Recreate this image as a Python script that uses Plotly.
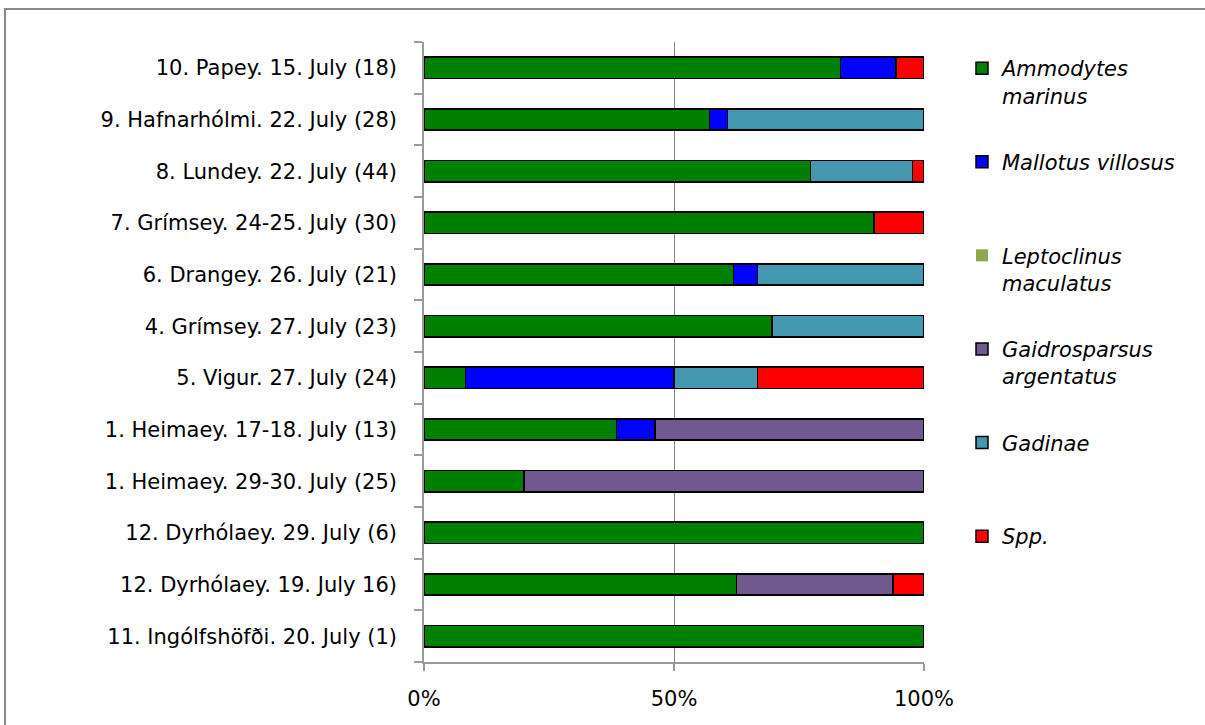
import plotly.graph_objects as go

# Colony / sampling date, with number of prey loads in brackets (bottom to top)
sites = [
    "11. Ingólfshöfði. 20. July (1)",
    "12. Dyrhólaey. 19. July 16)",
    "12. Dyrhólaey. 29. July (6)",
    "1. Heimaey. 29-30. July (25)",
    "1. Heimaey. 17-18. July (13)",
    "5. Vigur. 27. July (24)",
    "4. Grímsey. 27. July (23)",
    "6. Drangey. 26. July (21)",
    "7. Grímsey. 24-25. July (30)",
    "8. Lundey. 22. July (44)",
    "9. Hafnarhólmi. 22. July (28)",
    "10. Papey. 15. July (18)",
]

# Prey counts per taxon, same order as sites
ammodytes_marinus = [1, 10, 6, 5, 5, 2, 16, 13, 27, 34, 16, 15]
mallotus_villosus = [0, 0, 0, 0, 1, 10, 0, 1, 0, 0, 1, 2]
leptoclinus_maculatus = [0, 0, 0, 0, 0, 0, 0, 0, 0, 0, 0, 0]
gaidrosparsus_argentatus = [0, 5, 0, 20, 7, 0, 0, 0, 0, 0, 0, 0]
gadinae = [0, 0, 0, 0, 0, 4, 7, 7, 0, 9, 11, 0]
spp = [0, 1, 0, 0, 0, 8, 0, 0, 3, 1, 0, 1]

series = [
    ("<i>Ammodytes<br>marinus</i>", ammodytes_marinus, "#008000", True),
    ("<i>Mallotus villosus</i><br> ", mallotus_villosus, "#0000FF", True),
    ("<i>Leptoclinus<br>maculatus</i>", leptoclinus_maculatus, "#8DA84E", False),
    ("<i>Gaidrosparsus<br>argentatus</i>", gaidrosparsus_argentatus, "#70598E", True),
    ("<i>Gadinae</i><br> ", gadinae, "#4398B0", True),
    ("<i>Spp.</i><br> ", spp, "#FF0000", True),
]

FONT = "'DejaVu Sans', 'Open Sans', sans-serif"
FS = 21

fig = go.Figure()
for i, (name, vals, color, outlined) in enumerate(series):
    fig.add_trace(go.Bar(
        y=sites,
        x=vals,
        name=name,
        orientation="h",
        legendgroup=f"g{i}",
        marker=dict(
            color=color,
            line=dict(color="#000000" if outlined else color, width=1.5 if outlined else 0),
        ),
    ))

W, H = 1205, 725
ml, mr, mt, mb = 424, 281, 42, 63
pw, ph = W - ml - mr, H - mt - mb

fig.update_layout(
    width=W,
    height=H,
    barmode="stack",
    barnorm="percent",
    bargap=0.59,
    margin=dict(l=ml, r=mr, t=mt, b=mb, pad=0),
    paper_bgcolor="white",
    plot_bgcolor="white",
    font=dict(family=FONT, size=FS, color="#000000"),
    legend=dict(
        x=1 + (962 - (ml + pw)) / pw,
        y=1 - (48 - mt) / ph,
        xanchor="left",
        yanchor="top",
        traceorder="grouped",
        tracegroupgap=36,
        valign="top",
        font=dict(family=FONT, size=FS, color="#000000"),
        bgcolor="rgba(0,0,0,0)",
    ),
    xaxis=dict(
        range=[0, 100],
        tickvals=[0, 50, 100],
        ticktext=["0%", "50%", "100%"],
        showgrid=True,
        gridcolor="#868686",
        gridwidth=1.3,
        zeroline=False,
        showline=True,
        linecolor="#9a9a9a",
        linewidth=1.5,
        ticks="outside",
        ticklen=7,
        tickcolor="#9a9a9a",
        tickwidth=1.5,
        ticklabelstandoff=10,
        fixedrange=True,
    ),
    yaxis=dict(
        type="category",
        categoryorder="array",
        categoryarray=sites,
        tickson="boundaries",
        ticks="outside",
        ticklen=8,
        tickcolor="#9a9a9a",
        tickwidth=1.5,
        showline=True,
        linecolor="#9a9a9a",
        linewidth=1.5,
        showgrid=False,
        ticklabelstandoff=21,
        fixedrange=True,
    ),
    shapes=[
        # chart border
        dict(
            type="rect",
            xref="paper", yref="paper",
            x0=(5 - ml) / pw, x1=(W + 10 - ml) / pw,
            y0=1 - (H + 10 - mt) / ph, y1=1 - (9 - mt) / ph,
            line=dict(color="#898989", width=2),
            fillcolor="rgba(0,0,0,0)",
            layer="below",
        ),
    ],
)

fig.write_html("out.html", config={"displayModeBar": False})
